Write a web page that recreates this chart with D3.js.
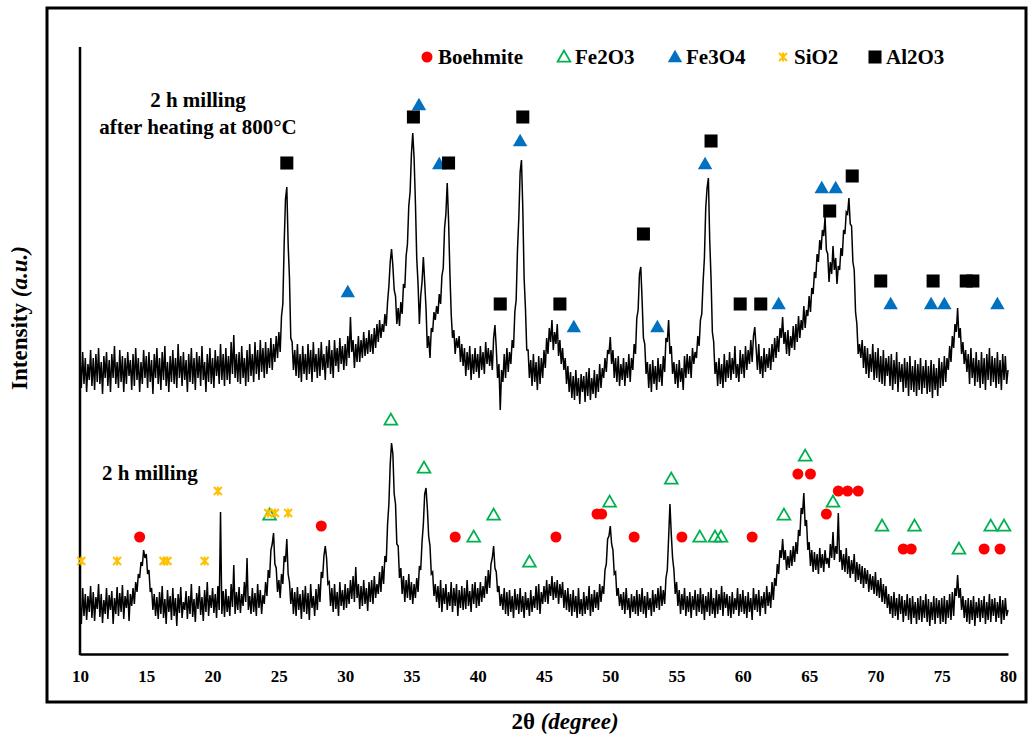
<!DOCTYPE html>
<html>
<head>
<meta charset="utf-8">
<script src="https://cdn.jsdelivr.net/npm/d3@7"></script>
<style>
  body { margin: 0; background: #fff; }
  text { font-family: "Liberation Serif", "Times New Roman", serif; font-weight: bold; fill: #000; }
</style>
</head>
<body>
<svg id="chart" width="1029" height="740"></svg>
<script>
"use strict";

// Scan grid: 2θ from 10° to 80°, one reading every 0.1°
var thetaStart = 10;
var thetaStep = 0.1;

// 2 h milling (a.u.), one row per degree
var milled = [
  52, 30, 66, 38, 60, 34, 58, 42, 68, 36,
  62, 33, 57, 45, 70, 37, 60, 31, 54, 40,
  66, 35, 59, 44, 63, 30, 56, 40, 67, 38,
  61, 42, 69, 35, 58, 46, 64, 33, 60, 48,
  66, 50, 72, 62, 80, 76, 92, 88, 104, 96,
  100, 80, 84, 62, 66, 44, 60, 38, 57, 35,
  62, 40, 68, 36, 55, 30, 64, 42, 58, 34,
  66, 38, 56, 28, 60, 41, 67, 36, 52, 44,
  63, 35, 58, 40, 70, 37, 55, 32, 61, 45,
  68, 39, 57, 33, 64, 42, 72, 38, 59, 46,
  66, 41, 60, 36, 68, 44, 142, 40, 63, 37,
  65, 42, 58, 38, 70, 47, 89, 40, 62, 44,
  67, 41, 60, 48, 72, 52, 96, 44, 58, 40,
  66, 42, 61, 38, 70, 46, 64, 40, 59, 50,
  72, 58, 84, 76, 104, 110, 121, 90, 86, 62,
  74, 56, 80, 70, 98, 92, 115, 80, 72, 50,
  66, 40, 62, 38, 67, 44, 60, 35, 64, 42,
  68, 40, 61, 34, 70, 46, 58, 38, 65, 44,
  70, 52, 82, 76, 98, 108, 96, 70, 72, 48,
  66, 42, 70, 45, 62, 38, 72, 48, 64, 44,
  70, 46, 66, 50, 74, 55, 78, 52, 87, 56,
  70, 45, 68, 48, 74, 50, 66, 43, 72, 52,
  74, 50, 78, 56, 70, 60, 82, 62, 88, 70,
  98, 92, 130, 150, 190, 211, 200, 160, 150, 110,
  108, 76, 86, 60, 78, 52, 74, 56, 80, 54,
  72, 50, 70, 56, 76, 62, 88, 84, 112, 130,
  160, 166, 146, 118, 108, 80, 82, 58, 70, 52,
  68, 46, 74, 42, 66, 50, 70, 44, 62, 48,
  72, 42, 66, 48, 70, 38, 64, 46, 68, 44,
  66, 45, 74, 48, 63, 42, 70, 50, 72, 46,
  66, 48, 72, 52, 68, 56, 78, 60, 84, 66,
  90, 96, 108, 86, 82, 62, 68, 48, 60, 44,
  66, 40, 62, 38, 64, 42, 58, 36, 65, 44,
  60, 40, 66, 42, 58, 36, 62, 44, 56, 38,
  64, 42, 58, 46, 68, 44, 70, 40, 62, 50,
  68, 52, 74, 50, 70, 58, 78, 54, 72, 56,
  74, 50, 70, 56, 72, 46, 64, 44, 66, 42,
  60, 38, 64, 42, 58, 36, 66, 40, 55, 38,
  62, 40, 58, 44, 68, 38, 60, 42, 64, 46,
  62, 44, 70, 52, 68, 60, 84, 90, 115, 118,
  128, 110, 104, 80, 82, 58, 66, 48, 60, 44,
  62, 40, 66, 44, 56, 36, 60, 42, 58, 40,
  64, 38, 60, 42, 66, 40, 58, 36, 62, 44,
  56, 38, 64, 42, 60, 46, 66, 44, 68, 48,
  64, 50, 76, 84, 116, 150, 120, 96, 84, 60,
  72, 48, 64, 40, 60, 44, 66, 38, 58, 42,
  62, 36, 58, 44, 64, 38, 60, 42, 66, 40,
  60, 34, 58, 42, 62, 38, 66, 40, 56, 36,
  64, 40, 60, 44, 68, 38, 62, 46, 60, 38,
  58, 36, 62, 40, 56, 44, 66, 38, 60, 42,
  64, 40, 58, 36, 62, 42, 56, 34, 66, 44,
  60, 42, 64, 38, 58, 46, 62, 40, 68, 48,
  62, 46, 72, 54, 76, 68, 90, 80, 104, 96,
  115, 94, 104, 84, 98, 86, 104, 88, 108, 92,
  112, 100, 124, 118, 146, 140, 161, 128, 134, 104,
  112, 88, 104, 82, 102, 84, 100, 80, 106, 86,
  100, 82, 104, 90, 96, 86, 110, 96, 122, 94,
  108, 100, 141, 92, 104, 84, 100, 82, 106, 80,
  98, 76, 94, 80, 100, 72, 92, 74, 90, 70,
  88, 66, 86, 70, 84, 62, 80, 64, 78, 60,
  82, 58, 74, 56, 76, 52, 70, 50, 68, 46,
  60, 40, 58, 36, 62, 38, 56, 34, 60, 40,
  58, 32, 54, 38, 60, 34, 56, 30, 58, 36,
  52, 30, 56, 34, 58, 32, 54, 36, 60, 32,
  55, 28, 52, 34, 58, 30, 56, 36, 54, 30,
  56, 32, 58, 30, 54, 36, 60, 34, 62, 38,
  66, 58, 79, 56, 66, 44, 58, 36, 54, 32,
  56, 30, 54, 34, 58, 28, 52, 36, 56, 32,
  54, 36, 58, 30, 52, 34, 60, 32, 55, 38,
  56, 32, 52, 36, 58, 30, 54, 34, 56, 38,
  44
];

// 2 h milling after heating at 800°C (a.u.)
var heated = [
  298, 266, 302, 270, 296, 262, 290, 274, 304, 268,
  296, 264, 300, 272, 306, 270, 292, 260, 298, 276,
  302, 268, 294, 262, 300, 276, 308, 270, 292, 266,
  304, 272, 298, 262, 296, 270, 302, 278, 294, 264,
  300, 268, 306, 274, 296, 262, 292, 270, 304, 276,
  298, 266, 302, 272, 294, 260, 300, 276, 306, 270,
  296, 264, 302, 274, 308, 268, 292, 262, 298, 272,
  304, 270, 296, 266, 310, 276, 298, 268, 302, 274,
  294, 262, 300, 272, 306, 270, 296, 264, 302, 276,
  298, 268, 308, 274, 292, 262, 300, 272, 306, 270,
  296, 266, 304, 278, 298, 270, 310, 274, 300, 268,
  306, 274, 298, 270, 312, 280, 319, 276, 300, 272,
  302, 270, 308, 276, 296, 268, 304, 272, 310, 278,
  300, 272, 312, 280, 304, 274, 314, 282, 306, 276,
  312, 280, 306, 286, 316, 284, 310, 292, 318, 296,
  322, 302, 338, 350, 410, 455, 467, 410, 376, 316,
  312, 284, 304, 278, 310, 276, 300, 272, 308, 280,
  300, 274, 310, 280, 304, 272, 312, 282, 300, 276,
  306, 278, 312, 284, 300, 274, 308, 286, 314, 280,
  304, 276, 314, 288, 306, 282, 316, 290, 308, 284,
  310, 288, 318, 296, 337, 302, 314, 286, 310, 292,
  318, 292, 314, 296, 322, 298, 316, 300, 324, 302,
  320, 300, 326, 306, 330, 312, 334, 316, 330, 322,
  340, 328, 352, 368, 392, 405, 388, 364, 358, 330,
  346, 328, 352, 340, 370, 366, 398, 410, 448, 462,
  500, 521, 496, 452, 396, 370, 330, 358, 372, 397,
  372, 346, 306, 318, 296, 326, 322, 342, 334, 348,
  340, 360, 350, 378, 386, 426, 440, 471, 434, 382,
  340, 316, 324, 300, 316, 306, 318, 292, 310, 288,
  306, 278, 302, 284, 308, 274, 300, 280, 306, 282,
  300, 276, 308, 284, 302, 280, 312, 290, 306, 288,
  304, 284, 316, 329, 306, 276, 290, 244, 284, 272,
  300, 276, 306, 282, 302, 290, 314, 306, 342, 354,
  404, 436, 482, 494, 446, 376, 346, 304, 304, 276,
  294, 268, 300, 272, 292, 264, 298, 270, 296, 276,
  304, 286, 316, 300, 326, 312, 334, 304, 322, 310,
  330, 298, 314, 290, 306, 284, 296, 270, 288, 262,
  282, 256, 278, 254, 284, 258, 276, 250, 280, 262,
  278, 252, 282, 258, 286, 254, 276, 260, 284, 256,
  280, 262, 290, 266, 286, 276, 296, 282, 304, 300,
  317, 290, 304, 276, 296, 272, 298, 268, 290, 274,
  296, 268, 292, 276, 300, 272, 296, 284, 310, 300,
  336, 344, 380, 387, 354, 316, 310, 280, 292, 266,
  290, 262, 294, 270, 288, 264, 296, 272, 290, 268,
  298, 282, 316, 312, 334, 300, 308, 280, 292, 270,
  290, 266, 294, 272, 286, 264, 298, 276, 300, 280,
  298, 276, 306, 290, 302, 296, 318, 308, 334, 340,
  372, 396, 446, 466, 476, 414, 376, 322, 312, 280,
  292, 268, 296, 270, 290, 266, 300, 272, 294, 276,
  302, 274, 296, 280, 308, 276, 290, 272, 304, 280,
  300, 276, 308, 284, 304, 290, 314, 292, 318, 327,
  306, 284, 310, 280, 298, 276, 306, 282, 300, 286,
  306, 284, 310, 292, 316, 296, 318, 302, 326, 316,
  337, 310, 322, 300, 324, 298, 318, 306, 328, 304,
  330, 312, 338, 316, 334, 324, 348, 326, 344, 338,
  358, 342, 366, 360, 382, 376, 400, 392, 414, 404,
  424, 418, 437, 404, 400, 372, 392, 380, 408, 384,
  396, 370, 388, 384, 406, 398, 424, 420, 442, 440,
  456, 430, 428, 392, 384, 342, 330, 300, 310, 296,
  314, 286, 308, 280, 306, 276, 300, 282, 310, 274,
  302, 276, 306, 272, 298, 270, 304, 268, 296, 278,
  298, 268, 300, 264, 294, 270, 302, 262, 292, 272,
  290, 262, 296, 266, 292, 258, 298, 264, 288, 262,
  294, 258, 290, 264, 296, 260, 288, 266, 294, 260,
  288, 262, 294, 256, 290, 264, 286, 258, 296, 266,
  292, 268, 298, 272, 296, 284, 308, 292, 318, 306,
  330, 322, 346, 316, 326, 300, 312, 290, 304, 282,
  300, 270, 306, 276, 296, 268, 302, 272, 294, 266,
  302, 270, 296, 264, 300, 274, 306, 268, 298, 272,
  296, 266, 302, 270, 294, 264, 300, 274, 298, 270,
  284
];

var xTicks = [10, 15, 20, 25, 30, 35, 40, 45, 50, 55, 60, 65, 70, 75, 80];

// Phase markers: [2θ, intensity]
var boehmite = [[14.5, 117], [28.2, 128], [38.3, 117], [45.9, 117], [49.0, 140], [49.35, 140],
  [51.8, 117], [55.4, 117], [60.7, 117], [64.15, 180], [65.1, 180], [66.3, 140],
  [67.2, 163], [67.9, 163], [68.7, 163], [72.1, 105], [72.7, 105], [78.2, 105], [79.4, 105]];
var fe2o3 = [[24.3, 139], [33.45, 234], [35.95, 186], [39.7, 117], [41.2, 139], [43.9, 92],
  [49.95, 152], [54.6, 175], [56.75, 117], [57.9, 117], [58.35, 117], [63.1, 139],
  [64.7, 198], [66.8, 152], [70.5, 128], [72.95, 128], [76.3, 105], [78.7, 128], [79.7, 128]];
var sio2 = [[10.1, 93], [12.8, 93], [16.3, 93], [16.6, 93], [19.4, 93], [20.4, 163],
  [24.2, 141], [24.7, 141], [25.7, 141]];
var fe3o4 = [[30.2, 362], [35.57, 549], [37.1, 490], [43.2, 513], [47.25, 327], [53.55, 327],
  [57.15, 490], [62.7, 350], [65.95, 466], [67.0, 466], [71.15, 350], [74.2, 350],
  [75.2, 350], [79.2, 350]];
var al2o3 = [[25.6, 491], [35.15, 537], [37.8, 491], [41.7, 350], [43.4, 537], [46.2, 350],
  [52.5, 420], [57.6, 513], [59.8, 350], [61.35, 350], [66.55, 443], [68.25, 478],
  [70.4, 373], [74.35, 373], [76.85, 373], [77.35, 373]];

var legendNames = ["Boehmite", "Fe2O3", "Fe3O4", "SiO2", "Al2O3"];

window.onload = function() {

  var svg = d3.select("#chart");
  var x = d3.scaleLinear().domain([10, 80]).range([80, 1008]);
  var y = d3.scaleLinear().domain([0, 607]).range([654, 47]);

  svg.append("rect").attr("width", 1029).attr("height", 740).attr("fill", "#fff");

  // outer frame
  svg.append("rect")
     .attr("x", 47).attr("y", 8)
     .attr("width", 979).attr("height", 694)
     .attr("fill", "none").attr("stroke", "#000").attr("stroke-width", 3);

  // curves
  var line = d3.line()
               .x(function(d, i) { return x(thetaStart + i * thetaStep); })
               .y(function(d) { return y(d); });

  [milled, heated].forEach(function(series) {
    svg.append("path")
       .attr("d", line(series))
       .attr("fill", "none")
       .attr("stroke", "#000")
       .attr("stroke-width", 1.5);
  });

  // axes
  var xAxis = svg.append("g")
                 .attr("transform", "translate(0,654)")
                 .call(d3.axisBottom(x).tickValues(xTicks).tickSize(0).tickPadding(16));
  xAxis.select(".domain").attr("stroke-width", 2.5);
  xAxis.selectAll("text")
       .style("font-family", "'Liberation Serif', serif")
       .style("font-weight", "bold")
       .style("font-size", "17px")
       .attr("fill", "#000");

  svg.append("line")
     .attr("x1", 80).attr("x2", 80)
     .attr("y1", y(607)).attr("y2", y(0) + 1.2)
     .attr("stroke", "#000").attr("stroke-width", 2.5);

  // marker shapes
  var sq = d3.symbol().type(d3.symbolSquare).size(170);
  var tri = d3.symbol().type(d3.symbolTriangle).size(90);
  var otri = d3.symbol().type(d3.symbolTriangle).size(70);
  function star(s) {
    return "M" + (-s) + "," + (-s) + "L" + s + "," + s +
           "M" + (-s) + "," + s + "L" + s + "," + (-s) +
           "M0," + (-s * 1.1) + "L0," + (s * 1.1);
  }

  function drawMarker(g, kind, cx, cy) {
    if (kind === 0) {
      g.append("circle").attr("cx", cx).attr("cy", cy).attr("r", 5.5).attr("fill", "#FF0000");
    } else if (kind === 1) {
      g.append("path").attr("d", otri()).attr("transform", "translate(" + cx + "," + (cy + 1) + ")")
       .attr("fill", "none").attr("stroke", "#00B050").attr("stroke-width", 1.8);
    } else if (kind === 2) {
      g.append("path").attr("d", tri()).attr("transform", "translate(" + cx + "," + (cy + 1) + ")")
       .attr("fill", "#0070C0");
    } else if (kind === 3) {
      g.append("path").attr("d", star(4)).attr("transform", "translate(" + cx + "," + cy + ")")
       .attr("fill", "none").attr("stroke", "#FFC000").attr("stroke-width", 2);
    } else {
      g.append("path").attr("d", sq()).attr("transform", "translate(" + cx + "," + cy + ")")
       .attr("fill", "#000");
    }
  }

  var marks = svg.append("g");
  [boehmite, fe2o3, fe3o4, sio2, al2o3].forEach(function(set, k) {
    set.forEach(function(d) { drawMarker(marks, k, x(d[0]), y(d[1])); });
  });

  // legend
  var legendX = [427, 564, 675, 783, 875];
  var legend = svg.append("g");
  legendNames.forEach(function(name, k) {
    drawMarker(legend, k, legendX[k], 57);
    legend.append("text")
          .attr("x", legendX[k] + 11).attr("y", 64)
          .style("font-size", "21px")
          .text(name);
  });

  // sample labels
  svg.append("text").attr("x", 198).attr("y", 107).attr("text-anchor", "middle")
     .style("font-size", "21px").text("2 h milling");
  svg.append("text").attr("x", 198).attr("y", 134).attr("text-anchor", "middle")
     .style("font-size", "21px").text("after heating at 800°C");
  svg.append("text").attr("x", 102).attr("y", 480)
     .style("font-size", "21px").text("2 h milling");

  // axis titles
  var xt = svg.append("text").attr("x", 565).attr("y", 729).attr("text-anchor", "middle")
              .style("font-size", "23px");
  xt.append("tspan").text("2θ ");
  xt.append("tspan").style("font-style", "italic").text("(degree)");

  var yt = svg.append("text").attr("transform", "translate(27,318) rotate(-90)")
              .attr("text-anchor", "middle").style("font-size", "23px");
  yt.append("tspan").text("Intensity ");
  yt.append("tspan").style("font-style", "italic").text("(a.u.)");
};
</script>
</body>
</html>
